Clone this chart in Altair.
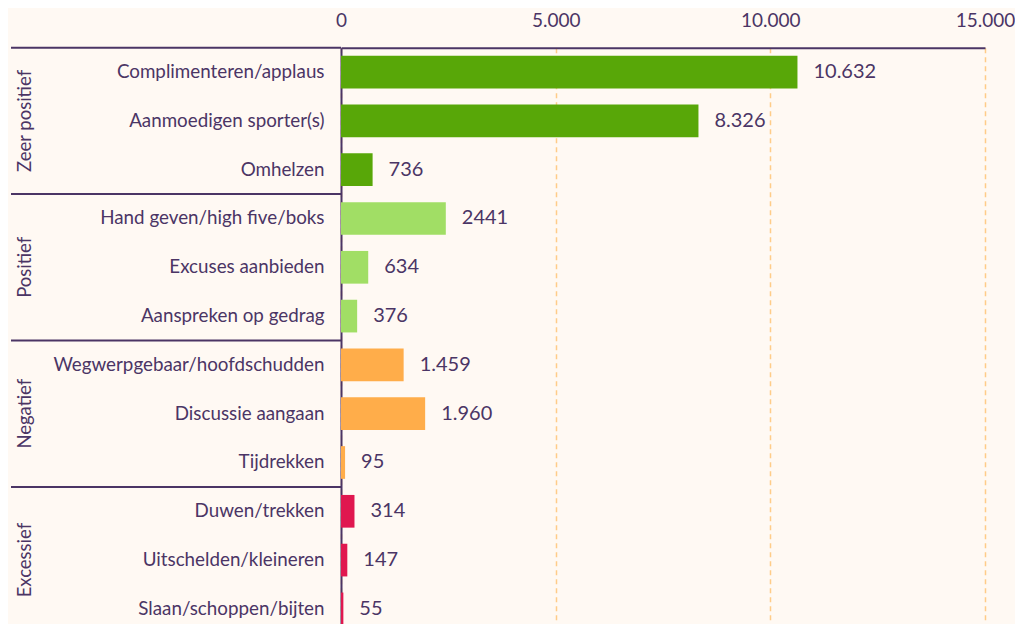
import altair as alt
import pandas as pd

categories = [
    "Complimenteren/applaus", "Aanmoedigen sporter(s)", "Omhelzen",
    "Hand geven/high five/boks", "Excuses aanbieden", "Aanspreken op gedrag",
    "Wegwerpgebaar/hoofdschudden", "Discussie aangaan", "Tijdrekken",
    "Duwen/trekken", "Uitschelden/kleineren", "Slaan/schoppen/bijten",
]
values = [10632, 8326, 736, 2441, 634, 376, 1459, 1960, 95, 314, 147, 55]
value_labels = ["10.632", "8.326", "736", "2441", "634", "376",
                "1.459", "1.960", "95", "314", "147", "55"]
group_names = ["Zeer positief", "Positief", "Negatief", "Excessief"]
group_of_row = ["Zeer positief"] * 3 + ["Positief"] * 3 + ["Negatief"] * 3 + ["Excessief"] * 3
group_colors = ["#58A708", "#A1DE65", "#FFAD4A", "#E0174F"]
group_start_rows = [0, 3, 6, 9]
group_mid_rows = [1.5, 4.5, 7.5, 10.5]
x_ticks = [0, 5000, 10000, 15000]

TXT = "#4B3565"
FONT = "Lato"
N = len(categories)
RANGE = 585.6

df = pd.DataFrame({"cat": categories, "value": values, "label": value_labels, "group": group_of_row})
sep_df = pd.DataFrame({"row": group_start_rows})
grp_df = pd.DataFrame({"row": group_mid_rows, "name": group_names})

band = alt.Scale(domain=categories, range=[0, RANGE], paddingInner=0.33, paddingOuter=0.165)
rowscale = alt.Scale(domain=[0, N], range=[0, RANGE])
xscale = alt.Scale(domain=[0, 15000], nice=False)

bars = alt.Chart(df).mark_bar().encode(
    x=alt.X("value:Q", scale=xscale, title=None,
            axis=alt.Axis(orient="top", values=x_ticks, ticks=False, grid=True,
                          gridColor="#FFCC88", gridDash=[5, 4], gridWidth=1.5,
                          domainColor=TXT, domainWidth=2, labelFlush=False,
                          labelFontSize=19, labelPadding=17, labelColor=TXT, labelFont=FONT,
                          labelExpr="replace(format(datum.value, ','), ',', '.')")),
    y=alt.Y("cat:N", scale=band, sort=categories, title=None,
            axis=alt.Axis(ticks=False, domainColor=TXT, domainWidth=2, labelFontSize=18.8,
                          labelPadding=17, labelColor=TXT, labelFont=FONT, labelLimit=400)),
    color=alt.Color("group:N", scale=alt.Scale(domain=group_names, range=group_colors), legend=None),
)

texts = alt.Chart(df).mark_text(align="left", baseline="middle", dx=16, fontSize=20,
                                font=FONT, color=TXT).encode(
    x=alt.X("value:Q", scale=xscale),
    y=alt.Y("cat:N", scale=band, sort=categories, axis=None),
    text="label:N",
)

seps = alt.Chart(sep_df).mark_rule(color=TXT, strokeWidth=2).encode(
    y=alt.Y("row:Q", scale=rowscale, axis=None),
    x=alt.value(-330),
    x2=alt.value(0),
)

glabels = alt.Chart(grp_df).mark_text(angle=270, align="center", baseline="middle",
                                      fontSize=18.5, font=FONT, color=TXT).encode(
    y=alt.Y("row:Q", scale=rowscale, axis=None),
    x=alt.value(-316),
    text="name:N",
)

chart = alt.layer(bars, texts, seps, glabels).resolve_scale(y="independent").properties(
    width=644, height=576,
    autosize=alt.AutoSizeParams(type="none"),
    padding={"left": 333, "top": 39.7, "right": 30, "bottom": 0},
    background="#FFF9F3",
).configure_view(stroke=None)

chart.save("out.html", embed_options={"renderer": "svg", "actions": False})
